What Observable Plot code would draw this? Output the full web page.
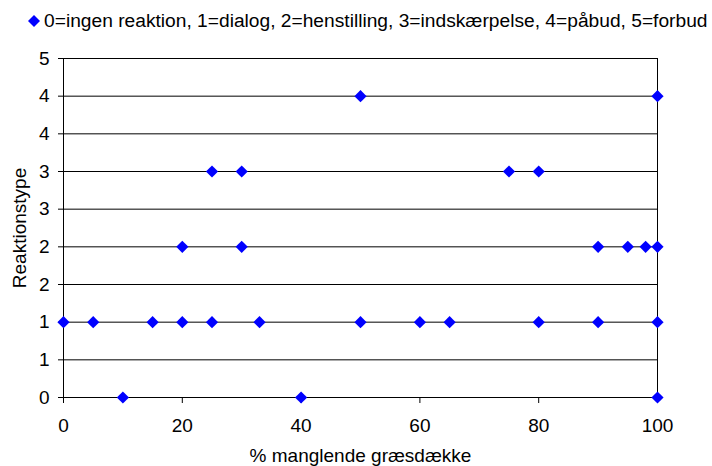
<!DOCTYPE html>
<html>
<head>
<meta charset="utf-8">
<script src="https://cdn.jsdelivr.net/npm/d3@7"></script>
<script src="https://cdn.jsdelivr.net/npm/@observablehq/plot@0.6"></script>
<style>
  html, body { margin: 0; padding: 0; background: #fff; }
  body { width: 712px; height: 466px; overflow: hidden; font-family: "Liberation Sans", Arial, sans-serif; }
  #legend { height: 45px; position: relative; }
  #legend .sym { position: absolute; left: 28px; top: 15px; }
  #legend .txt { position: absolute; left: 44px; top: 11px; font-size: 19.2px; line-height: 19px; color: #000; white-space: nowrap; }
  #chart svg { display: block; }
</style>
</head>
<body>
<div id="legend"></div>
<div id="chart"></div>
<script>
// Data
const pctMissing = [0, 5, 10, 15, 20, 20, 25, 25, 30, 30, 33, 40, 50, 50, 60, 65, 75, 80, 80, 90, 90, 95, 98, 100, 100, 100, 100];
const reactionType = [1, 1, 0, 1, 1, 2, 1, 3, 2, 3, 1, 0, 1, 4, 1, 1, 3, 1, 3, 1, 2, 2, 2, 0, 1, 2, 4];
const seriesName = "0=ingen reaktion, 1=dialog, 2=henstilling, 3=indskærpelse, 4=påbud, 5=forbud";
const xTicks = [0, 20, 40, 60, 80, 100];
const yTicks = [0, 0.5, 1, 1.5, 2, 2.5, 3, 3.5, 4, 4.5];
const yTickLabels = ["0", "1", "1", "2", "2", "3", "3", "4", "4", "5"];
const xLabel = "% manglende græsdække";
const yLabel = "Reaktionstype";
const color = "#0000ff";

const data = pctMissing.map((x, i) => ({x, y: reactionType[i]}));

// Legend
const legend = document.getElementById("legend");
legend.innerHTML = `<svg class="sym" width="12" height="12"><path d="M6,0 L12,6 L6,12 L0,6 Z" fill="${color}"/></svg><span class="txt"></span>`;
legend.querySelector(".txt").textContent = seriesName;

const chart = Plot.plot({
  width: 712,
  height: 421,
  marginLeft: 63,
  marginRight: 55,
  marginTop: 13,
  marginBottom: 69,
  style: {fontFamily: "Liberation Sans, Arial, sans-serif", fontSize: "19px", color: "#000", background: "#fff"},
  x: {domain: [0, 100]},
  y: {domain: [0, 4.5]},
  marks: [
    Plot.ruleY(yTicks, {stroke: "#000", strokeWidth: 1}),
    Plot.frame({stroke: "#000", strokeWidth: 1}),
    Plot.axisX({ticks: xTicks, tickSize: 6, tickPadding: 15, label: xLabel, labelAnchor: "center", labelArrow: "none", labelOffset: 64}),
    Plot.axisY({ticks: yTicks, tickSize: 5, tickPadding: 9, tickFormat: (d, i) => yTickLabels[i], label: yLabel, labelAnchor: "center", labelArrow: "none", labelOffset: 51}),
    Plot.dot(data, {x: "x", y: "y", symbol: "diamond2", r: 5.5, fill: color, stroke: "none"})
  ]
});
document.getElementById("chart").appendChild(chart);
</script>
</body>
</html>
